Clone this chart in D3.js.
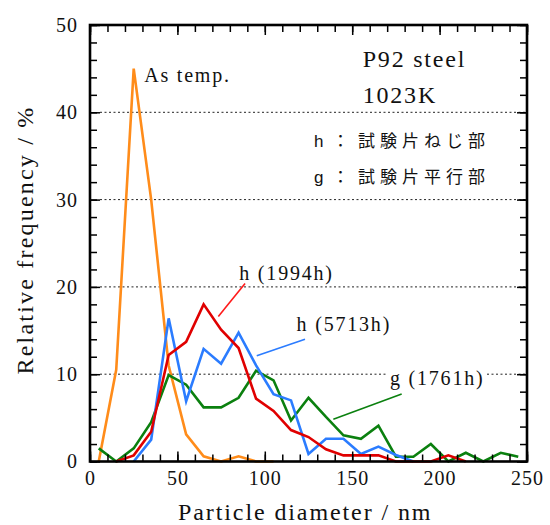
<!DOCTYPE html>
<html lang="ja">
<head>
    <meta charset="UTF-8">
    <title>P92 steel 1023K</title>
    <script src="https://d3js.org/d3.v7.min.js"></script>
    <style>
        body { margin: 0; background: #fff; }
        svg text { font-family: "Liberation Serif", "Times New Roman", serif; fill: #111; }
        .jp { font-family: "Noto Sans CJK JP", sans-serif; }
        .lat { font-family: "Liberation Sans", Arial, sans-serif; }
    </style>
</head>
<body>
<svg width="550" height="525"></svg>
<script>
    // Bin centers (nm)
    const diameter = [5, 15, 25, 35, 45, 55, 65, 75, 85, 95, 105, 115, 125,
                      135, 145, 155, 165, 175, 185, 195, 205, 215, 225, 235, 245];

    // Relative frequency (%) per series, null = not plotted
    const asTemp = [0, 10.5, 45, 30, 11, 3.1, 0.6, 0, 0.6, 0, 0,
                    null, null, null, null, null, null, null, null, null, null, null, null, null, null];
    const h1994 = [null, 0, 0.7, 3.4, 12.2, 13.7, 18, 15.1, 13, 7.2, 5.8, 3.6, 2.8,
                   1.4, 0.7, 0.7, 0.7, 0, 0, 0, 0.7, 0, null, null, null];
    const h5713 = [null, null, 0, 2.5, 16.4, 6.9, 12.9, 11.2, 14.75, 11.0, 7.7, 7.0, 0.86,
                   2.6, 2.6, 0.86, 1.7, 0.75, 0, null, null, null, null, null, null];
    const g1761 = [1.5, 0, 1.5, 4.5, 9.9, 8.8, 6.2, 6.2, 7.3, 10.4, 9.3, 4.7, 7.3,
                   5.1, 3.0, 2.6, 4.1, 0.55, 0.55, 2.0, 0, 1.0, 0, 1.0, 0.55];

    // Axis ticks
    const xTicks = [0, 50, 100, 150, 200, 250];
    const yTicks = [0, 10, 20, 30, 40, 50];

    const svg = d3.select("svg");
    const pl = 90, pr = 527, pt = 25, pb = 461.5;

    const x = d3.scaleLinear().domain([0, 250]).range([pl, pr]);
    const y = d3.scaleLinear().domain([0, 50]).range([pb, pt]);

    // Gridlines (dotted)
    svg.append("g").selectAll("line")
        .data(yTicks.slice(1, -1))
        .enter().append("line")
        .attr("x1", pl + 10).attr("x2", pr)
        .attr("y1", d => y(d)).attr("y2", d => y(d))
        .attr("stroke", "#222").attr("stroke-width", 1)
        .attr("stroke-dasharray", "2,2.5");

    // Series
    const series = [
        { name: "asTemp", values: asTemp, color: "#ff8c1a" },
        { name: "g1761", values: g1761, color: "#0b800f" },
        { name: "h5713", values: h5713, color: "#2b7cff" },
        { name: "h1994", values: h1994, color: "#e00000" }
    ];

    const line = d3.line()
        .defined(d => d[1] != null)
        .x(d => x(d[0]))
        .y(d => y(d[1]));

    svg.append("g").selectAll("path")
        .data(series)
        .enter().append("path")
        .attr("d", s => line(diameter.map((d, i) => [d, s.values[i]])))
        .attr("fill", "none")
        .attr("stroke", s => s.color)
        .attr("stroke-width", 2.6)
        .attr("stroke-linejoin", "miter");

    // Ticks (inward on all sides)
    const minorX = d3.range(0, 251, 10), minorY = d3.range(0, 51, 2);
    const tickStyle = g => {
        g.select(".domain").remove();
        g.selectAll(".tick line").attr("stroke", "#000").attr("stroke-width", 1.5);
    };
    svg.append("g").attr("transform", `translate(0,${pb})`)
        .call(d3.axisBottom(x).tickValues(minorX).tickSize(-7).tickFormat("")).call(tickStyle);
    svg.append("g").attr("transform", `translate(0,${pt})`)
        .call(d3.axisTop(x).tickValues(minorX).tickSize(-7).tickFormat("")).call(tickStyle);
    svg.append("g").attr("transform", `translate(${pl},0)`)
        .call(d3.axisLeft(y).tickValues(minorY).tickSize(-7).tickFormat("")).call(tickStyle);
    svg.append("g").attr("transform", `translate(${pr},0)`)
        .call(d3.axisRight(y).tickValues(minorY).tickSize(-7).tickFormat("")).call(tickStyle);

    // Major ticks with labels
    const xAxis = svg.append("g").attr("transform", `translate(0,${pb})`)
        .call(d3.axisBottom(x).tickValues(xTicks).tickSize(-10).tickPadding(9.5)).call(tickStyle);
    svg.append("g").attr("transform", `translate(0,${pt})`)
        .call(d3.axisTop(x).tickValues(xTicks).tickSize(-10).tickFormat("")).call(tickStyle);
    const yAxis = svg.append("g").attr("transform", `translate(${pl},0)`)
        .call(d3.axisLeft(y).tickValues(yTicks).tickSize(-10).tickPadding(12)).call(tickStyle);
    svg.append("g").attr("transform", `translate(${pr},0)`)
        .call(d3.axisRight(y).tickValues(yTicks).tickSize(-10).tickFormat("")).call(tickStyle);

    [xAxis, yAxis].forEach(a => a.selectAll("text")
        .attr("font-family", "Liberation Serif, serif")
        .attr("font-size", 20).attr("fill", "#111").attr("letter-spacing", 1));

    // Frame
    svg.append("rect")
        .attr("x", pl).attr("y", pt)
        .attr("width", pr - pl).attr("height", pb - pt)
        .attr("fill", "none").attr("stroke", "#000").attr("stroke-width", 2.6);

    // Axis titles
    svg.append("text")
        .attr("x", 178).attr("y", 520)
        .attr("font-size", 24).attr("letter-spacing", 1.9)
        .text("Particle diameter / nm");
    svg.append("text")
        .attr("transform", "translate(33,240) rotate(-90)")
        .attr("text-anchor", "middle")
        .attr("font-size", 24).attr("letter-spacing", 2.2)
        .text("Relative frequency / %");

    // Annotations
    const serifNote = (tx, ty, txt, size) => svg.append("text")
        .attr("x", x(tx)).attr("y", y(ty))
        .attr("font-size", size).attr("letter-spacing", 1.8)
        .text(txt);

    serifNote(156, 45.2, "P92 steel", 24);
    serifNote(156, 41.1, "1023K", 24);
    serifNote(31, 43.5, "As temp.", 20);
    serifNote(85.4, 20.8, "h (1994h)", 20);
    serifNote(118.2, 14.9, "h (5713h)", 20);

    // white patch behind g label on the gridline
    svg.append("rect")
        .attr("x", x(169.5)).attr("y", y(10) - 3)
        .attr("width", x(226.5) - x(169.5)).attr("height", 6)
        .attr("fill", "#fff");
    serifNote(171.6, 8.76, "g (1761h)", 20);

    // Leader lines
    const leaders = [
        { from: [88.7, 20.4], to: [73.4, 16.6], color: "#ff1a1a" },
        { from: [123, 14.0], to: [95.4, 12.1], color: "#2b7cff" },
        { from: [178.3, 7.73], to: [139.2, 4.83], color: "#0b800f" }
    ];
    svg.append("g").selectAll("line")
        .data(leaders)
        .enter().append("line")
        .attr("x1", d => x(d.from[0])).attr("y1", d => y(d.from[1]))
        .attr("x2", d => x(d.to[0])).attr("y2", d => y(d.to[1]))
        .attr("stroke", d => d.color).attr("stroke-width", 1.6);

    // Legend for h / g
    const legend = [["h", "試験片ねじ部"], ["g", "試験片平行部"]];
    legend.forEach((l, i) => {
        const by = 146.5 + i * 36;
        svg.append("text").attr("class", "lat")
            .attr("x", 314).attr("y", by).attr("font-size", 17).text(l[0]);
        svg.append("text").attr("class", "jp")
            .attr("x", 332).attr("y", by).attr("font-size", 17).text("：");
        svg.append("text").attr("class", "jp")
            .attr("x", 358).attr("y", by).attr("font-size", 17)
            .attr("letter-spacing", 5).text(l[1]);
    });
</script>
</body>
</html>
